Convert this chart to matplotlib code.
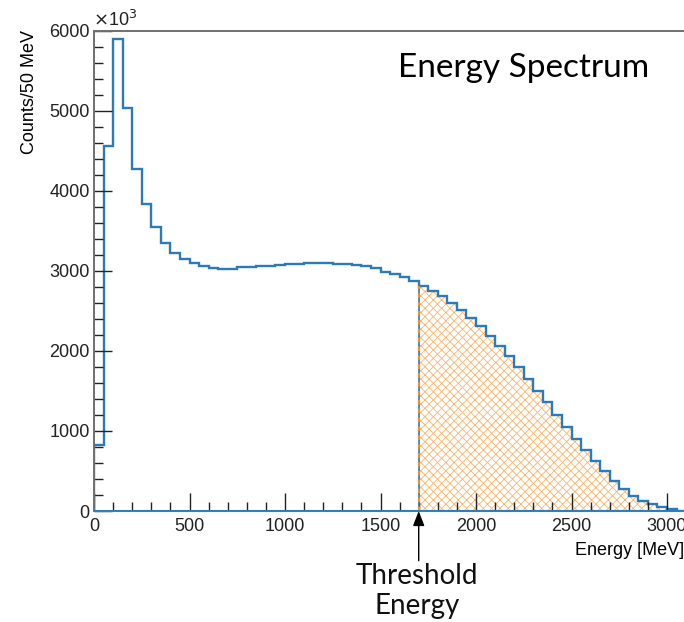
import numpy as np
import matplotlib
matplotlib.use('Agg')
from matplotlib import pyplot as plt
from matplotlib.ticker import MultipleLocator

# counts per 50 MeV bin, starting at 0 MeV
bin_width = 50
counts = [820, 4555, 5893, 5033, 4268, 3836, 3550, 3350, 3226, 3150,
          3094, 3055, 3036, 3028, 3028, 3044, 3046, 3060, 3064, 3078,
          3086, 3090, 3098, 3100, 3098, 3090, 3086, 3075, 3062, 3030,
          2985, 2960, 2920, 2870, 2805, 2747, 2684, 2603, 2506, 2415,
          2311, 2191, 2061, 1933, 1792, 1654, 1496, 1355, 1197, 1052,
          898, 765, 620, 499, 378, 274, 191, 129, 83, 50,
          20, 5, 0, 0]
threshold = 1700
titulo = "Energy Spectrum"
rotulo_limiar = "Threshold\nEnergy"

counts = np.array(counts, dtype=float)
edges = np.arange(len(counts) + 1) * bin_width

azul = '#2b7bba'
laranja = '#ff8c1a'

plt.rcParams['font.family'] = ['Liberation Sans', 'DejaVu Sans']
plt.rcParams['hatch.linewidth'] = 0.6

fig = plt.figure(figsize=(6.84, 6.22), dpi=100)
ax = fig.add_axes([94 / 684, 1 - 511 / 622, 1 - 94 / 684, (511 - 30.5) / 622])

# parte acima do limiar, tracejada
acima = np.where(edges[:-1] >= threshold, counts, 0)
ax.stairs(acima, edges, fill=True, facecolor='none', edgecolor=laranja,
          hatch='xxxx', linewidth=0, alpha=0.65)
limiar_idx = int(threshold / bin_width)
ax.plot([threshold, threshold], [0, counts[limiar_idx]], color=azul, lw=1.2)
ax.plot([threshold, threshold], [0, counts[limiar_idx]], color=laranja,
        lw=1.6, linestyle=(0, (2, 2)))

# histograma principal
ax.stairs(counts, edges, baseline=None, color=azul, linewidth=1.7)
ax.axhline(0, color=azul, lw=2.2, zorder=3)
ax.plot([0, 0], [0, counts[0]], color=azul, lw=1.7)

ax.set_xlim(0, 3089)
ax.set_ylim(0, 6000)

ax.xaxis.set_major_locator(MultipleLocator(500))
ax.xaxis.set_minor_locator(MultipleLocator(100))
ax.yaxis.set_major_locator(MultipleLocator(1000))
ax.yaxis.set_minor_locator(MultipleLocator(200))
ax.tick_params(which='both', direction='in', colors='#222222', labelsize=13)
ax.tick_params(which='major', length=13, width=1.0)
ax.tick_params(which='minor', length=6.5, width=1.0)
ax.tick_params(axis='x', pad=5)
ax.tick_params(axis='y', pad=3)

for lado in ['left', 'top']:
    ax.spines[lado].set_color('#707070')
    ax.spines[lado].set_linewidth(1.4)
ax.spines['bottom'].set_color('#707070')
ax.spines['right'].set_visible(False)

ax.set_ylabel("Counts/50 MeV", fontsize=13, loc='top', labelpad=8)
ax.set_xlabel("Energy [MeV]", fontsize=13, loc='right', labelpad=5)

fig.text(93 / 684, 1 - 20 / 622, r"$\times$10$^{3}$", fontsize=13,
         ha='left', va='center', color='#222222')

fig.text(398 / 684, 1 - 68 / 622, titulo, fontsize=24, family='Lato',
         ha='left', va='center')

ax.annotate('', xy=(threshold, 0), xytext=(threshold, -620),
            xycoords='data', textcoords='data', annotation_clip=False,
            arrowprops=dict(arrowstyle='-|>,head_length=0.9,head_width=0.35',
                            color='black', lw=1.0, shrinkA=0, shrinkB=0))
fig.text(417 / 684, 1 - 591 / 622, rotulo_limiar, fontsize=20, family='Lato',
         ha='center', va='center', linespacing=1.2, color='#111111')

plt.savefig('out.png', dpi=100)
